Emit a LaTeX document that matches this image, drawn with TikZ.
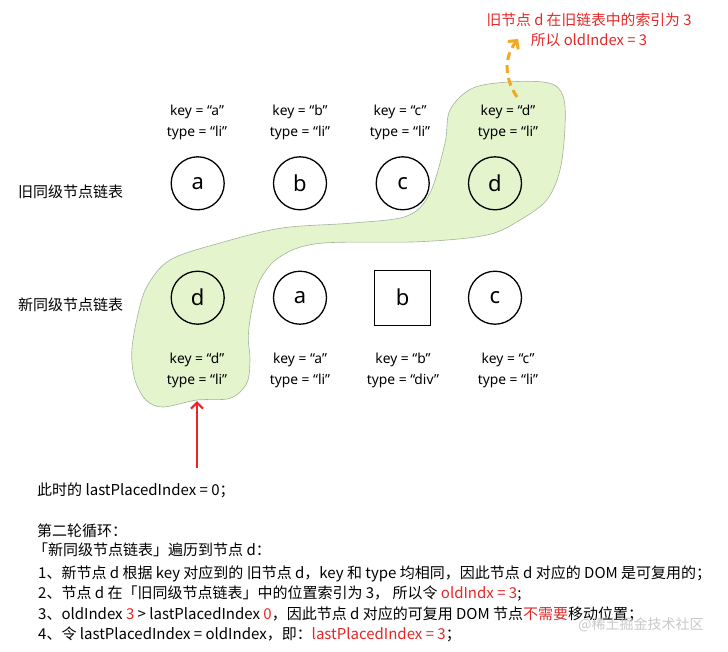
\documentclass[tikz,border=0pt]{standalone}
\usepackage{fontspec}
\setmainfont{Noto Sans CJK SC}
\newfontfamily\latinfont{Noto Sans}
\usetikzlibrary{arrows.meta}
\definecolor{blobfill}{RGB}{228,245,206}
\definecolor{blobline}{RGB}{165,178,155}
\definecolor{redtxt}{RGB}{232,38,38}
\definecolor{orangearr}{RGB}{245,166,35}
\definecolor{wmark}{RGB}{200,200,200}
\begin{document}
\begin{tikzpicture}[x=1pt,y=-1pt,
  circ/.style={circle,draw,line width=1.3pt,minimum size=53pt,inner sep=0pt,font=\latinfont\fontsize{22}{22}\selectfont},
  sqbox/.style={rectangle,draw,line width=1.3pt,minimum width=56pt,minimum height=55pt,inner sep=0pt,font=\latinfont\fontsize{22}{22}\selectfont},
  attr/.style={align=center,inner sep=0pt,font=\latinfont\fontsize{13.8}{21}\selectfont},
  rowlbl/.style={anchor=west,inner sep=0pt,font=\fontsize{15}{15}\selectfont},
  body/.style={anchor=base west,inner sep=0pt,font=\fontsize{15}{15}\selectfont},
  redarrow/.style={draw=redtxt,line width=2.2pt,-{Straight Barb[length=6pt,width=12pt]}},
  orangearrow/.style={draw=orangearr,line width=3pt,dash pattern=on 8pt off 5pt,-{Straight Barb[length=6pt,width=13pt]}},
  note/.style={align=center,inner sep=0pt,text=redtxt,font=\fontsize{14.8}{20}\selectfont}]
\useasboundingbox (0,0) rectangle (728,651);

% green highlight
\draw[fill=blobfill,draw=blobline,line width=0.6pt] plot[smooth cycle,tension=0.55] coordinates {
 (163,407) (146,400) (135,380) (131.7,353) (136.7,320) (146.7,287) (170,260) (220,243)
 (282,228) (353,223) (407,216) (430,193) (445,143) (450,110) (473,88) (513,81.7)
 (550,83.3) (563.3,96.7) (565,127) (560,170) (546.7,200) (520,220) (487,235) (420,241.7)
 (320,243.3) (280,256.7) (260,280) (251.7,310) (248.3,337) (250,360) (246.7,383.3)
 (230,398.3) (197,400)};
\coordinate (blobtip) at (197,401);
\coordinate (blobtop) at (517,97);

% row labels
\node[rowlbl] (oldrow) at (18,191.7) {旧同级节点链表};
\node[rowlbl] (newrow) at (18,305) {新同级节点链表};

% old list
\node[circ] (oa) at (197.7,183.3) {a};
\node[circ] (ob) at (300,183.3) {b};
\node[circ] (oc) at (402.7,183.3) {c};
\node[circ] (od) at (495,183.3) {d};
\node[attr] (oka) at (197,122.8) {key = “a”\\type = “li”};
\node[attr] (okb) at (300,122.8) {key = “b”\\type = “li”};
\node[attr] (okc) at (400,122.8) {key = “c”\\type = “li”};
\node[attr] (okd) at (508,122.8) {key = “d”\\type = “li”};

% new list
\node[circ] (nd) at (197.7,297.7) {d};
\node[circ] (na) at (300,297.7) {a};
\node[sqbox] (nb) at (402.7,297.7) {b};
\node[circ] (nc) at (495,297.7) {c};
\node[attr] (nkd) at (197,370) {key = “d”\\type = “li”};
\node[attr] (nka) at (300,370) {key = “a”\\type = “li”};
\node[attr] (nkb) at (403,370) {key = “b”\\type = “div”};
\node[attr] (nkc) at (508,370) {key = “c”\\type = “li”};

% notes and arrows
\node[note] (oldnote) at (589,30) {旧节点 d 在旧链表中的索引为 3\\所以 oldIndex = 3};
\coordinate (notetip) at (518,39);
\draw[orangearrow] (blobtop) .. controls (503,76) and (505,56) .. (notetip);
\coordinate (redstart) at (197,468);
\draw[redarrow] (redstart) -- (blobtip);

% explanation text
\node[body] (t0) at (37,495.5) {此时的 lastPlacedIndex = 0；};
\node[body] (t1) at (37,536.5) {第二轮循环：};
\node[body] (t2) at (33,555.5) {「新同级节点链表」遍历到节点 d：};
\node[body] (t3) at (38,578.5) {1、新节点 d 根据 key 对应到的 旧节点 d，key 和 type 均相同，因此节点 d 对应的 DOM 是可复用的；};
\node[body] (t4) at (38,598.5) {2、节点 d 在「旧同级节点链表」中的位置索引为 3，\ 所以令 \textcolor{redtxt}{oldIndx = 3};};
\node[body] (t5) at (38,619.5) {3、oldIndex \textcolor{redtxt}{3} > lastPlacedIndex \textcolor{redtxt}{0}，因此节点 d 对应的可复用 DOM 节点\textcolor{redtxt}{不需要}移动位置；};
\node[body] (t6) at (38,639.5) {4、令 lastPlacedIndex = oldIndex，即：\textcolor{redtxt}{lastPlacedIndex = 3}；};
\node[inner sep=0pt,text=wmark,font=\fontsize{14}{14}\selectfont] (wm) at (641,625) {@稀土掘金技术社区};
\end{tikzpicture}
\end{document}
